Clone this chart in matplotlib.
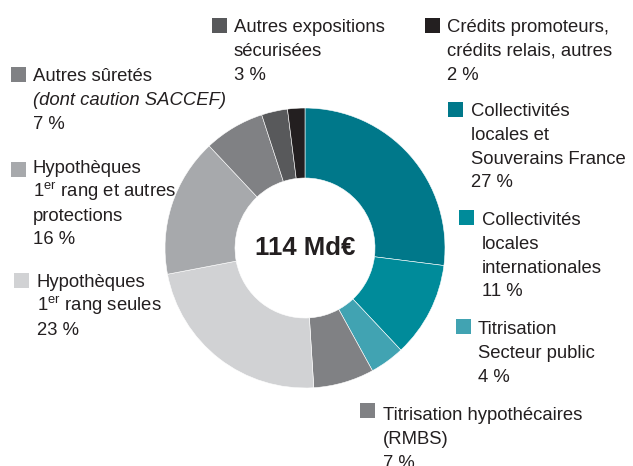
import matplotlib
matplotlib.use("Agg")
import matplotlib.pyplot as plt

# Data (clockwise from top)
categories = [
    "Collectivités locales et Souverains France",
    "Collectivités locales internationales",
    "Titrisation Secteur public",
    "Titrisation hypothécaires (RMBS)",
    "Hypothèques 1er rang seules",
    "Hypothèques 1er rang et autres protections",
    "Autres sûretés (dont caution SACCEF)",
    "Autres expositions sécurisées",
    "Crédits promoteurs, crédits relais, autres",
]
values = [27, 11, 4, 7, 23, 16, 7, 3, 2]
colors = ["#00788a", "#008b9a", "#41a3b2", "#808184", "#d1d2d4",
          "#a7a9ac", "#808184", "#58595b", "#231f20"]

# label lines (the last line is the percentage)
label_lines = [
    ["Collectivités", "locales et", "Souverains France"],
    ["Collectivités", "locales", "internationales"],
    ["Titrisation", "Secteur public"],
    ["Titrisation hypothécaires", "(RMBS)"],
    ["Hypothèques", r"1$^{\rm er}$ rang seules"],
    ["Hypothèques", r"1$^{\rm er}$ rang et autres", "protections"],
    ["Autres sûretés", "(dont caution SACCEF)"],
    ["Autres expositions", "sécurisées"],
    ["Crédits promoteurs,", "crédits relais, autres"],
]
total_label = "114 Md€"

# layout in pixels: marker left, marker top, text left, first baseline
layout = [
    (448, 102, 471, 116),
    (459, 210, 482, 225),
    (456, 319, 478, 334),
    (360, 403, 383, 420),
    (14, 273, 37, 287),
    (11, 162, 33, 173),
    (11, 67, 33, 81),
    (212, 18, 234, 32),
    (425, 18, 447, 32),
]

plt.rcParams["font.family"] = "Liberation Sans"
plt.rcParams["mathtext.fontset"] = "custom"
plt.rcParams["mathtext.rm"] = "Liberation Sans"

W, H = 633, 466
fig = plt.figure(figsize=(W / 100, H / 100), dpi=100)
ax = fig.add_axes([0, 0, 1, 1])

cx, cy, r = 305, H - 248, 140
ax.pie(values, colors=colors, startangle=90, counterclock=False,
       center=(cx, cy), radius=r,
       wedgeprops=dict(width=r * 0.5, edgecolor="white", linewidth=0.4))
ax.set_xlim(0, W)
ax.set_ylim(0, H)
ax.set_aspect("equal")
ax.axis("off")

ax.text(cx, cy, total_label, ha="center", va="center",
        fontsize=18.5, fontweight="bold", color="#231f20")

txt_color = "#231f20"
fs = 13.3
step = 23.8
for lines, val, col, (mx, my, tx, ty) in zip(label_lines, values, colors, layout):
    ax.add_patch(plt.Rectangle((mx, H - my - 14.5), 14.5, 14.5,
                               color=col, lw=0))
    all_lines = lines + ["%d %%" % val]
    for i, line in enumerate(all_lines):
        style = "italic" if line.startswith("(dont") else "normal"
        ax.text(tx, H - (ty + i * step), line, ha="left", va="baseline",
                fontsize=fs, color=txt_color, style=style)

fig.savefig("out.png", dpi=100)
